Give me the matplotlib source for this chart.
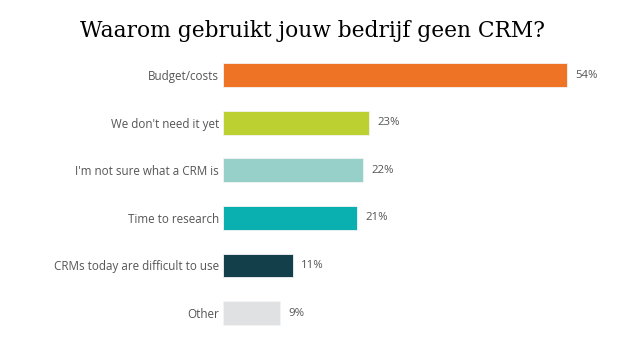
import matplotlib.pyplot as plt

categories = [
    "Budget/costs",
    "We don't need it yet",
    "I'm not sure what a CRM is",
    "Time to research",
    "CRMs today are difficult to use",
    "Other",
]
values = [54, 23, 22, 21, 11, 9]
colors = ["#EE7325", "#BCD131", "#97D0C9", "#0AAFB0", "#123F4A", "#E0E1E3"]

fig = plt.figure(figsize=(6.25, 3.5), dpi=100)
ax = fig.add_axes([0.3568, 0.0377, 0.6112, 0.816])

pos = list(range(len(categories)))
ax.barh(pos, values, height=0.5, color=colors, edgecolor="#f4f4f4", linewidth=0.6)

for p, v in zip(pos, values):
    ax.annotate(f"{v}%", (v, p), xytext=(6, 0), textcoords="offset points",
                va="center", ha="left", fontsize=8.2, color="#555555",
                family="Open Sans")

ax.set_xlim(0, 60)
ax.set_ylim(len(categories) - 0.5, -0.5)
ax.set_yticks(pos)
ax.set_yticklabels(categories, fontsize=8.4, color="#555555", family="Open Sans")
ax.tick_params(axis="y", length=0, pad=3)
ax.set_xticks([])
for s in ax.spines.values():
    s.set_visible(False)

fig.text(0.5, 0.912, "Waarom gebruikt jouw bedrijf geen CRM?", ha="center",
         va="center", fontsize=15.7, family="DejaVu Serif", color="black")

fig.savefig("out.png", dpi=100)
